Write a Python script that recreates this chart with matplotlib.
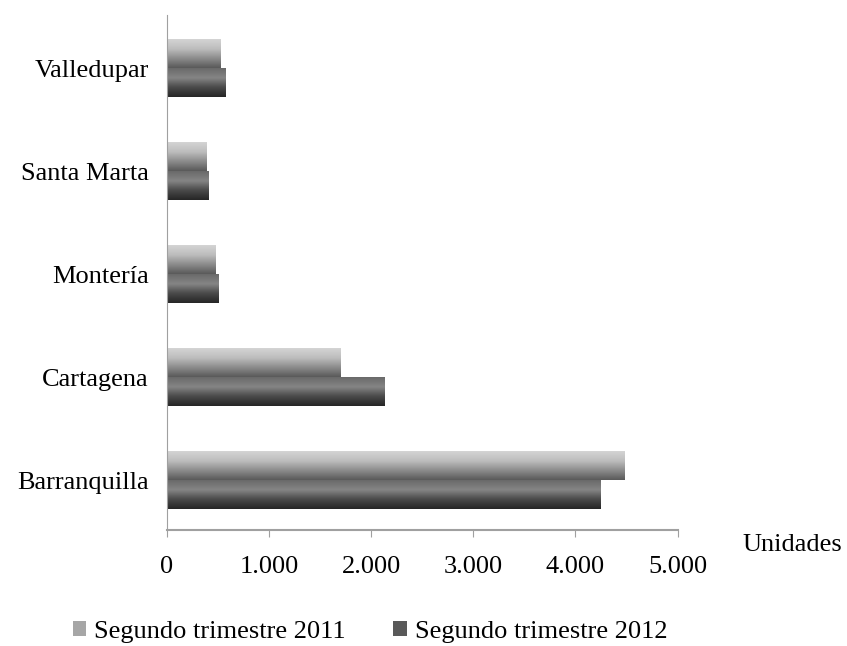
import numpy as np
import matplotlib.pyplot as plt
from matplotlib.colors import LinearSegmentedColormap
from matplotlib.patches import Patch

plt.rcParams['font.family'] = ['Liberation Serif', 'DejaVu Serif']

ciudades = ["Barranquilla", "Cartagena", "Montería", "Santa Marta", "Valledupar"]
trim_2011 = [4480, 1695, 470, 390, 520]
trim_2012 = [4240, 2125, 505, 410, 575]
ticks = [0, 1000, 2000, 3000, 4000, 5000]
tick_labels = ["0", "1.000", "2.000", "3.000", "4.000", "5.000"]

# degradados verticales (arriba -> abajo)
cm_2011 = LinearSegmentedColormap.from_list("c11", ["#d4d4d4", "#bdbdbd", "#8c8c8c", "#5a5a5a"])
cm_2012 = LinearSegmentedColormap.from_list("c12", ["#6a6a6a", "#858585", "#4a4a4a", "#262626"])
grad = np.linspace(0, 1, 64).reshape(-1, 1)

fig = plt.figure(figsize=(8.47, 6.46), dpi=100)
ax = fig.add_axes([0.197, 0.18, 0.603, 0.797])

h = 0.28
y = np.arange(len(ciudades))
for yi, v1, v2 in zip(y, trim_2011, trim_2012):
    # 2011 arriba, 2012 abajo
    ax.imshow(grad, cmap=cm_2011, aspect="auto", origin="upper",
              extent=[0, v1, yi, yi + h], zorder=2)
    ax.imshow(grad, cmap=cm_2012, aspect="auto", origin="upper",
              extent=[0, v2, yi - h, yi], zorder=2)

ax.set_xlim(0, 5000)
ax.set_ylim(-0.48, 4.52)
ax.set_yticks(y)
ax.set_yticklabels(ciudades, fontsize=19)
ax.set_xticks(ticks)
ax.set_xticklabels(tick_labels, fontsize=19)
ax.tick_params(axis="y", length=0, pad=13)
ax.tick_params(axis="x", direction="out", length=5, color="#a0a0a0", pad=14)

for s in ["top", "right"]:
    ax.spines[s].set_visible(False)
ax.spines["left"].set_color("#a0a0a0")
ax.spines["bottom"].set_color("#a0a0a0")
ax.spines["bottom"].set_linewidth(1.5)
ax.spines["bottom"].set_bounds(0, 5000)

fig.text(0.877, 0.157, "Unidades", fontsize=19, ha="left", va="center")

handles = [Patch(facecolor="#a6a6a6", label="Segundo trimestre 2011"),
           Patch(facecolor="#595959", label="Segundo trimestre 2012")]
fig.legend(handles=handles, loc="center", bbox_to_anchor=(0.437, 0.022), ncol=2,
           frameon=False, fontsize=19, handlelength=0.5, handleheight=0.5,
           handletextpad=0.3, columnspacing=1.8, borderpad=0.1)

fig.savefig("out.png", dpi=100)
